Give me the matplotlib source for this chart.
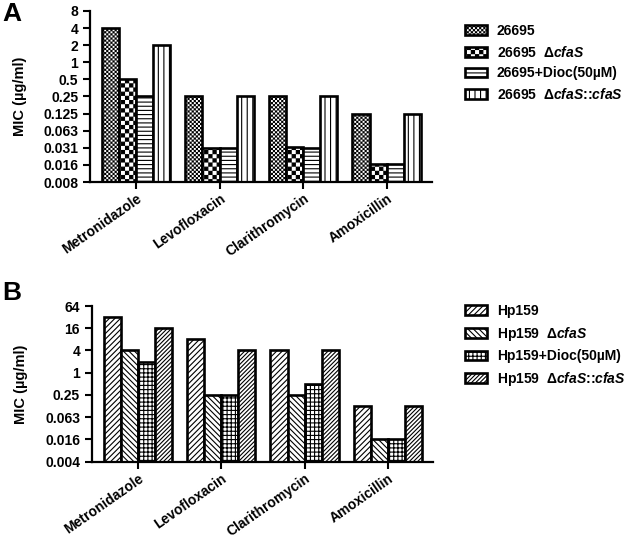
import warnings
import numpy as np
import matplotlib
matplotlib.use("Agg")
import matplotlib.pyplot as plt
import matplotlib.hatch as mhatch
from matplotlib.path import Path

warnings.filterwarnings("ignore")

# ---- data ----
drugs = ["Metronidazole", "Levofloxacin", "Clarithromycin", "Amoxicillin"]

labels_a = ["26695", r"26695  $\mathit{\Delta cfaS}$", "26695+Dioc(50µM)",
            r"26695  $\mathit{\Delta cfaS}$::$\mathit{cfaS}$"]
mic_26695 = [4, 0.25, 0.25, 0.125]
mic_26695_dcfas = [0.5, 0.031, 0.0325, 0.016]
mic_26695_dioc = [0.25, 0.031, 0.031, 0.016]
mic_26695_comp = [2, 0.25, 0.25, 0.125]
yticks_a = ["0.008", "0.016", "0.031", "0.063", "0.125", "0.25", "0.5", "1", "2", "4", "8"]

labels_b = ["Hp159", r"Hp159  $\mathit{\Delta cfaS}$", "Hp159+Dioc(50µM)",
            r"Hp159  $\mathit{\Delta cfaS}$::$\mathit{cfaS}$"]
mic_hp159 = [32, 8, 4, 0.125]
mic_hp159_dcfas = [4, 0.25, 0.25, 0.016]
mic_hp159_dioc = [2, 0.25, 0.5, 0.016]
mic_hp159_comp = [16, 4, 4, 0.125]
yticks_b = ["0.004", "0.016", "0.063", "0.25", "1", "4", "16", "64"]


# checkerboard hatch ('c'), not available in matplotlib by default
class CheckerHatch(mhatch.HatchPatternBase):
    def __init__(self, hatch, density):
        self.cells = hatch.count('c') * density
        n = self.cells
        self.num_vertices = 5 * ((n * n + 1) // 2) if n else 0

    def set_vertices_and_codes(self, vertices, codes):
        n = self.cells
        s = 1.0 / n
        m = 0.005  # shrink a bit, the hatch stroke grows the squares again
        k = 0
        for i in range(n):
            for j in range(n):
                if (i + j) % 2 == 0:
                    x0, y0 = i * s + m, j * s + m
                    x1, y1 = (i + 1) * s - m, (j + 1) * s - m
                    vertices[k:k + 5] = [[x0, y0], [x1, y0], [x1, y1], [x0, y1], [x0, y0]]
                    codes[k:k + 5] = [Path.MOVETO, Path.LINETO, Path.LINETO,
                                      Path.LINETO, Path.CLOSEPOLY]
                    k += 5


mhatch._hatch_types.append(CheckerHatch)

plt.rcParams['font.family'] = 'Liberation Sans'
plt.rcParams['font.weight'] = 'bold'
plt.rcParams['mathtext.fontset'] = 'custom'
plt.rcParams['mathtext.rm'] = 'Liberation Sans:bold'
plt.rcParams['mathtext.it'] = 'Liberation Sans:bold:italic'
plt.rcParams['mathtext.bf'] = 'Liberation Sans:bold'
plt.rcParams['hatch.linewidth'] = 0.8
plt.rcParams['hatch.color'] = 'black'


def mic_panel(ax, series, hatches, labels, base, lo, hi, ticklabels, leg_anchor):
    x = np.arange(len(drugs))
    width = 0.205
    for i, (vals, h, lab) in enumerate(zip(series, hatches, labels)):
        ax.bar(x + (i - 1.5) * width, np.array(vals) - base ** lo, width, bottom=base ** lo,
               color='white', edgecolor='black', hatch=h, linewidth=1.9, label=lab)
    ax.set_yscale('log', base=2)
    ax.set_ylim(base ** lo, base ** hi)
    ax.set_yticks([base ** p for p in range(lo, hi + 1)])
    ax.set_yticklabels(ticklabels, fontsize=10, fontweight='bold')
    ax.yaxis.set_minor_locator(matplotlib.ticker.NullLocator())
    ax.set_xlim(-0.55, 3.54)
    ax.set_xticks(x)
    ax.set_xticklabels(drugs, rotation=35, ha='right', va='top', rotation_mode='anchor',
                       fontsize=10, fontweight='bold')
    ax.spines['top'].set_visible(False)
    ax.spines['right'].set_visible(False)
    ax.spines['left'].set_linewidth(1.6)
    ax.spines['bottom'].set_linewidth(1.6)
    ax.tick_params(axis='both', direction='out', length=5, width=1.5)
    ax.tick_params(axis='x', pad=2)
    ax.set_ylabel('MIC (µg/ml)', fontsize=10.5, fontweight='bold', labelpad=12)
    fig.legend(*ax.get_legend_handles_labels(), loc='upper left',
               bbox_to_anchor=leg_anchor, bbox_transform=fig.transFigure,
               frameon=False, fontsize=10, borderpad=0, borderaxespad=0,
               handlelength=1.6, handleheight=0.7, handletextpad=0.7, labelspacing=0.48)


fig = plt.figure(figsize=(6.25, 5.38), dpi=100)
ax_a = fig.add_axes([0.144, 0.6617, 0.547, 0.318])
ax_b = fig.add_axes([0.147, 0.1418, 0.546, 0.2894])

mic_panel(ax_a, [mic_26695, mic_26695_dcfas, mic_26695_dioc, mic_26695_comp],
          ['cccccccc', 'cccc', '----', '|||'], labels_a, 2, -7, 3, yticks_a,
          (465 / 625, 1 - 24 / 538))
mic_panel(ax_b, [mic_hp159, mic_hp159_dcfas, mic_hp159_dioc, mic_hp159_comp],
          ['//////', '\\\\\\\\\\\\', '++++', '////////'], labels_b, 4, -4, 3, yticks_b,
          (465 / 625, 1 - 304 / 538))

fig.text(0.004, 0.997, 'A', fontsize=19, fontweight='bold', va='top')
fig.text(0.004, 1 - 281 / 538, 'B', fontsize=19, fontweight='bold', va='top')

fig.savefig('out.png', dpi=100)
